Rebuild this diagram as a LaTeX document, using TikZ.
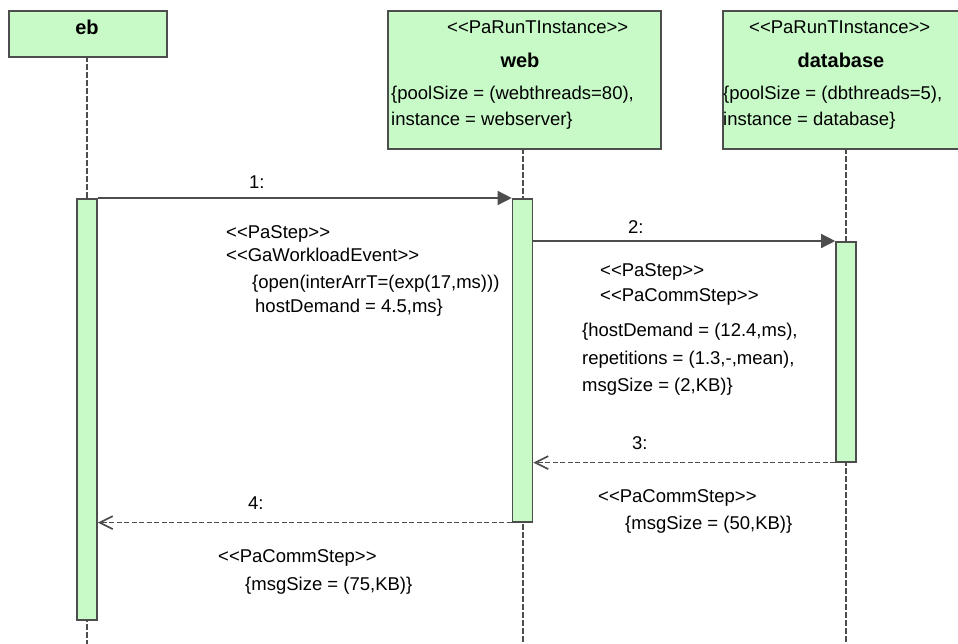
\documentclass[tikz,border=0pt]{standalone}
\usepackage{fontspec}
\setmainfont{Liberation Sans}
\usetikzlibrary{arrows.meta,positioning,calc}

\definecolor{umlgreen}{RGB}{200,250,200}
\definecolor{umlline}{RGB}{77,77,77}
\newcommand{\stereo}[1]{<{}<#1>{}>}

\tikzset{
  head/.style={draw=umlline, fill=umlgreen, line width=1.6pt, inner sep=0pt, anchor=north west},
  bar/.style={draw=umlline, fill=umlgreen, line width=1.6pt, minimum width=20pt, inner sep=0pt, anchor=north},
  lifeline/.style={draw=umlline, line width=2pt, dash pattern=on 6pt off 2pt},
  call/.style={draw=umlline, line width=1.3pt, -{Triangle[length=14pt,width=14pt]}},
  reply/.style={draw=umlline, line width=1.7pt, dash pattern=on 5pt off 2.5pt, -{Straight Barb[length=13pt,width=13pt]}},
  txt/.style={inner sep=0pt, anchor=base west, font=\fontsize{18.5}{22}\selectfont},
  title/.style={inner sep=0pt, anchor=base, font=\fontsize{20}{22}\selectfont\bfseries},
}

\begin{document}
\begin{tikzpicture}[x=1pt,y=-1pt]
  \clip (0,0) rectangle (958,643);
  \fill[white] (0,0) rectangle (958,643);
  \coordinate (bottom) at (0,645);

  % lifeline heads
  \node[head, minimum width=158pt, minimum height=46pt] (ebHead) at (8,10) {};
  \node[head, minimum width=273pt, minimum height=138pt] (webHead) at (387,10) {};
  \node[head, minimum width=245pt, minimum height=138pt] (dbHead) at (722,10) {};

  \node[title] (ebName) at (87,34) {eb};
  \node[title] (webName) at (520,67) {web};
  \node[title] (dbName) at (841,67) {database};
  \node[txt] (webStereo) at (447,33) {\stereo{PaRunTInstance}};
  \node[txt] (webPool) at (391,99) {\{poolSize = (webthreads=80),};
  \node[txt] (webInst) at (391,125) {instance = webserver\}};
  \node[txt] (dbStereo) at (749,33) {\stereo{PaRunTInstance}};
  \node[txt] (dbPool) at (723,99) {\{poolSize = (dbthreads=5),};
  \node[txt] (dbInst) at (723,125) {instance = database\}};

  % dashed lifelines
  \coordinate (ebTop) at (87,56);
  \coordinate (webTop) at (522.5,148);
  \coordinate (dbTop) at (846,148);
  \draw[lifeline] (ebTop) -- (ebTop |- bottom);
  \draw[lifeline] (webTop) -- (webTop |- bottom);
  \draw[lifeline] (dbTop) -- (dbTop |- bottom);

  % activation bars
  \node[bar, minimum height=421pt] (ebBar) at (87,198) {};
  \node[bar, minimum height=323pt] (webBar) at (522.5,198) {};
  \node[bar, minimum height=220pt] (dbBar) at (846,241) {};

  % messages
  \draw[call] (ebBar.north east) -- (webBar.north west);
  \draw[call] (webBar.east |- dbBar.north) -- (dbBar.north west);
  \draw[reply] (dbBar.south west) -- (webBar.east |- dbBar.south);
  \draw[reply] (webBar.south west) -- (ebBar.east |- webBar.south);

  \node[txt] (lab1) at (249,188) {1:};
  \node[txt] (lab2) at (628,233) {2:};
  \node[txt] (lab3) at (632,449) {3:};
  \node[txt] (lab4) at (248,509) {4:};

  % annotations
  \node[txt] (s1a) at (226,238) {\stereo{PaStep}};
  \node[txt] (s1b) at (226,261) {\stereo{GaWorkloadEvent}};
  \node[txt] (v1a) at (252,288) {\{open(interArrT=(exp(17,ms)))};
  \node[txt] (v1b) at (255,312) {hostDemand = 4.5,ms\}};

  \node[txt] (s2a) at (600,276) {\stereo{PaStep}};
  \node[txt] (s2b) at (600,301) {\stereo{PaCommStep}};
  \node[txt] (v2a) at (582,336) {\{hostDemand = (12.4,ms),};
  \node[txt] (v2b) at (582,364) {repetitions = (1.3,-,mean),};
  \node[txt] (v2c) at (582,391) {msgSize = (2,KB)\}};

  \node[txt] (s3) at (598,502) {\stereo{PaCommStep}};
  \node[txt] (v3) at (625,529) {\{msgSize = (50,KB)\}};

  \node[txt] (s4) at (218,562) {\stereo{PaCommStep}};
  \node[txt] (v4) at (245,590) {\{msgSize = (75,KB)\}};
\end{tikzpicture}
\end{document}
